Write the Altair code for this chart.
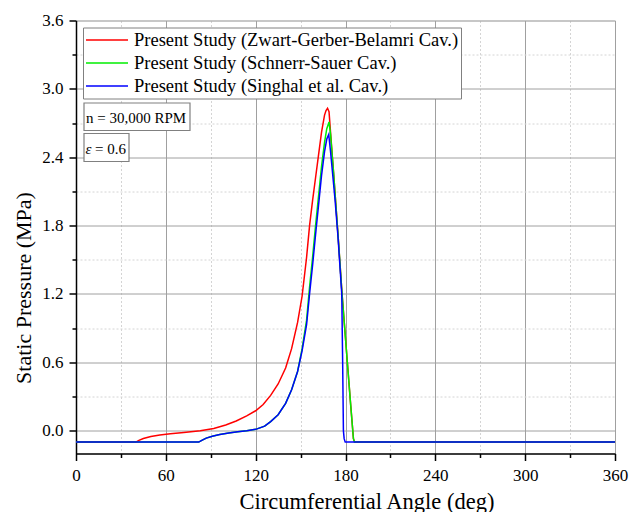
import altair as alt
import pandas as pd

series_names = [
    "Present Study (Zwart-Gerber-Belamri Cav.)",
    "Present Study (Schnerr-Sauer Cav.)",
    "Present Study (Singhal et al. Cav.)",
]
series_colors = ["#ff0000", "#00ee00", "#0000ff"]

zgb_angle = [0, 40, 42, 45, 50, 56, 63, 72, 83, 92, 100, 107, 114, 120, 125, 130, 135, 140, 144, 148,
             151, 154, 156, 158, 160, 162, 164, 166, 167, 168, 169, 170, 172, 175, 177.7, 181, 183.5,
             185.3, 186, 360]
zgb_p = [-0.1, -0.1, -0.085, -0.068, -0.05, -0.037, -0.027, -0.015, 0.0, 0.02, 0.05, 0.085, 0.13, 0.175,
         0.23, 0.31, 0.41, 0.55, 0.72, 0.95, 1.18, 1.52, 1.80, 2.02, 2.22, 2.42, 2.62, 2.77, 2.81, 2.83,
         2.80, 2.62, 2.27, 1.72, 1.2, 0.64, 0.22, -0.07, -0.1, -0.1]

ss_angle = [0, 82, 84, 87, 91, 96, 102, 108, 114, 120, 126, 130, 135, 140, 144, 148, 151, 154, 156, 158,
            160, 162, 164, 166, 167.5, 169, 170, 172, 175, 177.7, 181, 183.5, 185.3, 186, 360]
ss_p = [-0.1, -0.1, -0.085, -0.065, -0.048, -0.033, -0.02, -0.01, 0.0, 0.012, 0.04, 0.08, 0.14, 0.24,
        0.36, 0.52, 0.72, 0.97, 1.26, 1.52, 1.80, 2.06, 2.32, 2.53, 2.65, 2.71, 2.60, 2.27, 1.72, 1.2,
        0.64, 0.22, -0.07, -0.1, -0.1]

sg_angle = [0, 82, 84, 87, 91, 96, 102, 108, 114, 120, 126, 130, 135, 140, 144, 148, 151, 154, 156, 158,
            160, 162, 164, 166, 167.5, 168.8, 170, 173, 175, 177.5, 178.1, 178.6, 179.1, 179.8, 360]
sg_p = [-0.1, -0.1, -0.085, -0.065, -0.048, -0.033, -0.02, -0.01, 0.0, 0.012, 0.04, 0.08, 0.14, 0.24,
        0.36, 0.52, 0.70, 0.93, 1.20, 1.45, 1.72, 1.98, 2.24, 2.45, 2.56, 2.60, 2.45, 2.03, 1.70, 1.2,
        0.6, 0.0, -0.07, -0.1, -0.1]

x_ticks = list(range(0, 361, 30))
y_ticks = [round(0.3 * i, 1) for i in range(13)]

frames = []
for name, a, p in zip(series_names, [zgb_angle, ss_angle, sg_angle], [zgb_p, ss_p, sg_p]):
    frames.append(pd.DataFrame({"angle": a, "pressure": p, "series": name}))
df = pd.concat(frames, ignore_index=True)

FONT = "Liberation Serif"

x_major = "datum.value % 60 === 0"
y_major = "abs(datum.value / 0.6 - round(datum.value / 0.6)) < 0.001"

x_axis = alt.Axis(
    values=x_ticks,
    labelExpr=f"{x_major} ? datum.label : ''",
    labelFlush=False,
    labelOverlap=False,
    tickSize={"condition": {"test": x_major, "value": 7}, "value": 4},
    gridColor={"condition": {"test": x_major, "value": "#a0a0a0"}, "value": "#d4d4d4"},
    gridDash={"condition": {"test": x_major, "value": []}, "value": [2, 2]},
    gridWidth=1,
    domainColor="black", domainWidth=1.5, tickColor="black", tickWidth=1.5,
    labelFont=FONT, labelFontSize=17, labelColor="black", labelPadding=7,
    title="Circumferential Angle (deg)", titleFont=FONT, titleFontSize=22.5,
    titleFontWeight="normal", titleColor="black", titlePadding=7, titleX=290.5,
)
y_axis = alt.Axis(
    values=y_ticks,
    format=".1f",
    labelExpr=f"{y_major} ? datum.label : ''",
    labelOverlap=False,
    labelFlush=False,
    tickSize={"condition": {"test": y_major, "value": 7}, "value": 4},
    gridColor={"condition": {"test": y_major, "value": "#a0a0a0"}, "value": "#d4d4d4"},
    gridDash={"condition": {"test": y_major, "value": []}, "value": [2, 2]},
    gridWidth=1,
    domainColor="black", domainWidth=1.5, tickColor="black", tickWidth=1.5,
    labelFont=FONT, labelFontSize=17, labelColor="black", labelPadding=6,
    title="Static Pressure (MPa)", titleFont=FONT, titleFontSize=22,
    titleFontWeight="normal", titleColor="black", titlePadding=6, titleY=267,
)

legend = alt.Legend(
    orient="top-left", offset=7, title=None, padding=2,
    strokeColor="#808080", fillColor="white",
    labelFont=FONT, labelFontSize=18.5, labelColor="black", labelLimit=0,
    symbolType="stroke", symbolSize=1764, symbolStrokeWidth=1.5,
    clipHeight=21, rowPadding=2, labelOffset=5, symbolOffset=0,
)

color = alt.Color("series:N", scale=alt.Scale(domain=series_names, range=series_colors),
                  legend=legend, sort=series_names)

layers = []
for name in series_names:
    layers.append(
        alt.Chart(df).transform_filter(alt.datum.series == name)
        .mark_line(strokeWidth=1.5, clip=True)
        .encode(
            x=alt.X("angle:Q", scale=alt.Scale(domain=[0, 360], nice=False, zero=False), axis=x_axis),
            y=alt.Y("pressure:Q", scale=alt.Scale(domain=[-0.2, 3.6], nice=False, zero=False), axis=y_axis),
            color=color,
        )
    )

dummy = pd.DataFrame({"k": [0]})
box1 = alt.Chart(dummy).mark_rect(fill="white", stroke="#808080", strokeWidth=1.2).encode(
    x=alt.value(8), x2=alt.value(114), y=alt.value(82.5), y2=alt.value(110))
box2 = alt.Chart(dummy).mark_rect(fill="white", stroke="#808080", strokeWidth=1.2).encode(
    x=alt.value(8), x2=alt.value(53), y=alt.value(113), y2=alt.value(141))
txt1 = alt.Chart(dummy).mark_text(align="left", baseline="middle", font=FONT, fontSize=15,
                                  color="black").encode(
    x=alt.value(10), y=alt.value(97), text=alt.value("n = 30,000 RPM"))
txt2a = alt.Chart(dummy).mark_text(align="left", baseline="middle", font=FONT, fontSize=15,
                                   fontStyle="italic", color="black").encode(
    x=alt.value(9.5), y=alt.value(128), text=alt.value("ε"))
txt2b = alt.Chart(dummy).mark_text(align="left", baseline="middle", font=FONT, fontSize=15,
                                   color="black").encode(
    x=alt.value(19), y=alt.value(128), text=alt.value("= 0.6"))

chart = alt.layer(*layers, box1, box2, txt1, txt2a, txt2b).properties(
    width=539, height=433,
    autosize=alt.AutoSizeParams(type="none"),
    padding={"left": 68, "top": 12.5, "right": 14, "bottom": 58},
).configure_view(stroke="#222222", strokeWidth=1.5).configure(background="white")

chart.save("out.html", embed_options={"renderer": "svg", "actions": False})
